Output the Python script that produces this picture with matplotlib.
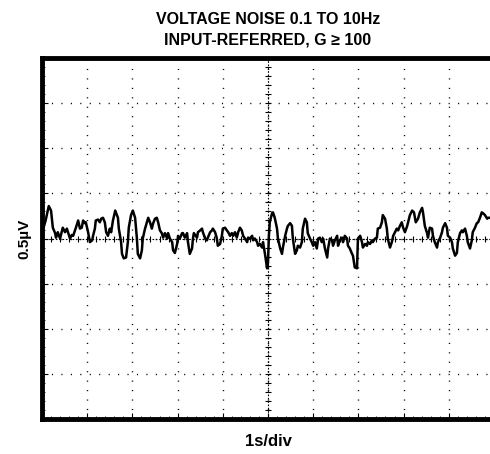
import matplotlib.pyplot as plt
import numpy as np

plt.rcParams['font.family'] = ['Liberation Sans', 'DejaVu Sans']

# time (s) and input-referred noise (uV)
t = [0.00, 0.08, 0.15, 0.20, 0.24, 0.29, 0.31, 0.35, 0.40, 0.46, 0.51, 0.55, 0.62, 0.66, 0.69,
     0.75, 0.80, 0.84, 0.88, 0.91, 0.95, 0.97, 1.02, 1.06, 1.11, 1.13, 1.17, 1.19, 1.24, 1.28,
     1.31, 1.35, 1.39, 1.42, 1.46, 1.50, 1.53, 1.57, 1.62, 1.68, 1.70, 1.75, 1.77, 1.81, 1.86,
     1.90, 1.92, 1.97, 2.01, 2.06, 2.10, 2.12, 2.17, 2.21, 2.23, 2.28, 2.32, 2.35, 2.39, 2.43,
     2.46, 2.50, 2.54, 2.57, 2.61, 2.65, 2.68, 2.72, 2.77, 2.79, 2.83, 2.88, 2.90, 2.94, 2.99,
     3.01, 3.05, 3.10, 3.12, 3.16, 3.21, 3.23, 3.27, 3.32, 3.34, 3.36, 3.43, 3.45, 3.50, 3.54,
     3.56, 3.61, 3.65, 3.67, 3.72, 3.76, 3.78, 3.83, 3.87, 3.89, 3.94, 3.98, 4.00, 4.05, 4.09,
     4.12, 4.16, 4.20, 4.23, 4.27, 4.31, 4.34, 4.38, 4.42, 4.45, 4.49, 4.54, 4.56, 4.60, 4.65,
     4.67, 4.71, 4.76, 4.78, 4.82, 4.87, 4.89, 4.93, 4.98, 5.00, 5.02, 5.04, 5.09, 5.11, 5.15,
     5.20, 5.22, 5.27, 5.31, 5.33, 5.38, 5.42, 5.44, 5.49, 5.53, 5.55, 5.60, 5.64, 5.66, 5.71,
     5.75, 5.77, 5.82, 5.86, 5.88, 5.93, 5.97, 6.00, 6.04, 6.08, 6.11, 6.15, 6.19, 6.22, 6.26,
     6.31, 6.33, 6.37, 6.42, 6.44, 6.48, 6.53, 6.55, 6.59, 6.64, 6.66, 6.70, 6.75, 6.77, 6.81,
     6.86, 6.88, 6.92, 6.97, 6.99, 7.04, 7.08, 7.10, 7.15, 7.19, 7.21, 7.26, 7.30, 7.32, 7.37,
     7.41, 7.43, 7.48, 7.52, 7.54, 7.59, 7.63, 7.65, 7.70, 7.74, 7.77, 7.81, 7.85, 7.88, 7.92,
     7.96, 7.99, 8.03, 8.08, 8.10, 8.14, 8.19, 8.23, 8.27, 8.32, 8.36, 8.41, 8.43, 8.47, 8.52,
     8.54, 8.58, 8.63, 8.65, 8.69, 8.74, 8.76, 8.81, 8.85, 8.87, 8.92, 8.96, 8.98, 9.03, 9.07,
     9.09, 9.14, 9.18, 9.20, 9.25, 9.29, 9.31, 9.36, 9.40, 9.42, 9.47, 9.51, 9.53, 9.58, 9.62,
     9.65, 9.69, 9.73, 9.76, 9.80, 9.85, 9.87, 9.91]
noise = [0.06, 0.20, 0.36, 0.31, 0.12, 0.06, 0.01, 0.07, 0.00, 0.12, 0.07, 0.11, 0.00, 0.04, 0.03,
         0.12, 0.20, 0.11, 0.12, 0.20, 0.17, 0.18, 0.07, -0.04, -0.02, 0.03, 0.11, 0.20, 0.21, 0.18,
         0.22, 0.23, 0.18, 0.07, 0.03, 0.11, 0.07, 0.20, 0.31, 0.23, 0.11, -0.04, -0.17, -0.22, -0.21,
         -0.04, 0.12, 0.26, 0.31, 0.23, 0.00, -0.17, -0.22, -0.13, 0.00, 0.11, 0.18, 0.23, 0.18, 0.11,
         0.17, 0.22, 0.23, 0.18, 0.09, 0.06, 0.01, 0.06, 0.00, 0.06, 0.00, -0.04, -0.13, -0.16, -0.06,
         0.03, 0.00, 0.06, 0.06, 0.01, 0.06, -0.04, -0.17, -0.11, 0.00, 0.06, 0.01, 0.07, 0.09, 0.11,
         0.07, 0.00, -0.02, 0.01, 0.07, 0.09, 0.11, 0.07, 0.00, -0.08, -0.06, 0.03, 0.11, 0.12, 0.09,
         0.07, 0.03, 0.06, 0.03, 0.07, 0.01, 0.07, 0.12, 0.09, 0.03, 0.00, -0.04, 0.01, 0.00, 0.03,
         -0.02, 0.00, -0.04, -0.08, -0.06, -0.10, -0.04, -0.16, -0.33, -0.27, 0.03, 0.18, 0.28, 0.29, 0.23,
         0.11, 0.00, -0.11, -0.17, -0.10, 0.03, 0.11, 0.14, 0.17, 0.14, 0.00, -0.17, -0.13, -0.08, -0.10,
         -0.04, 0.11, 0.22, 0.18, 0.06, 0.00, -0.04, -0.08, -0.04, -0.11, 0.00, 0.01, -0.04, 0.00, -0.11,
         -0.21, -0.11, 0.00, -0.02, -0.08, -0.02, 0.03, -0.08, -0.02, 0.01, -0.04, 0.03, 0.00, -0.08, -0.11,
         -0.17, -0.19, -0.32, -0.33, 0.00, 0.03, -0.04, -0.10, -0.06, -0.08, -0.04, -0.06, -0.02, -0.04, 0.00,
         0.01, 0.11, 0.12, 0.18, 0.26, 0.22, 0.11, 0.00, -0.10, -0.04, 0.03, 0.07, 0.11, 0.09, 0.14,
         0.18, 0.12, 0.07, 0.14, 0.18, 0.26, 0.31, 0.29, 0.18, 0.22, 0.29, 0.34, 0.29, 0.14, 0.06,
         0.01, 0.12, 0.11, 0.03, -0.04, -0.10, -0.04, 0.01, 0.07, 0.12, 0.17, 0.12, 0.03, 0.01, -0.04,
         -0.11, -0.19, -0.16, -0.04, 0.06, 0.09, 0.07, 0.11, 0.03, -0.04, -0.11, -0.02, 0.07, 0.12, 0.17,
         0.18, 0.23, 0.29, 0.28, 0.26, 0.22, 0.23, 0.23]

fig = plt.figure(figsize=(4.9, 4.54), dpi=100)
# scope screen: 10 x 8 divisions, 1 s/div and 0.5 uV/div
ax = fig.add_axes([0.0857, 0.0771, 0.9224, 0.795])
ax.set_xlim(0, 10)
ax.set_ylim(-2, 2)

# graticule
for xv in range(1, 10):
    ax.axvline(xv, color='black', lw=1.0, ls=(0, (0.8, 6.0)), zorder=1)
for yv in np.arange(-1.5, 2.0, 0.5):
    ax.axhline(yv, color='black', lw=1.0, ls=(0, (0.8, 6.0)), zorder=1)
ax.axhline(0, color='black', lw=0.8, ls=(0, (1.5, 1.5)), zorder=1)
ax.axvline(5, color='black', lw=0.8, ls=(0, (1.5, 1.5)), zorder=1)
ax.plot(np.arange(0.2, 10, 0.2), np.zeros(49), ls='none', marker='|', ms=4, mew=0.8, color='black')
ax.plot(np.full(39, 5.0), np.arange(-1.9, 2.0, 0.1), ls='none', marker='_', ms=4, mew=0.8, color='black')

ax.plot(t, noise, color='black', lw=1.8, zorder=3)

for side in ['left', 'top', 'bottom']:
    ax.spines[side].set_linewidth(3.5)
ax.spines['right'].set_visible(False)
ax.set_xticks(np.arange(0, 10.01, 1))
ax.set_yticks(np.arange(-2, 2.01, 0.5))
ax.set_xticks(np.arange(0, 10.01, 0.2), minor=True)
ax.set_yticks(np.arange(-2, 2.01, 0.1), minor=True)
ax.tick_params(which='both', direction='in', labelbottom=False, labelleft=False)
ax.tick_params(which='major', length=4, width=0.8)
ax.tick_params(which='minor', length=2.5, width=0.6)

ax.set_title('VOLTAGE NOISE 0.1 TO 10Hz\nINPUT-REFERRED, G \u2265 100',
             fontsize=11.5, fontweight='bold', pad=10, linespacing=1.4)
ax.set_xlabel('1s/div', fontsize=12, fontweight='bold', labelpad=11)
ax.set_ylabel('0.5\u00b5V', fontsize=11, fontweight='bold', labelpad=8)

fig.savefig('out.png', dpi=100)
